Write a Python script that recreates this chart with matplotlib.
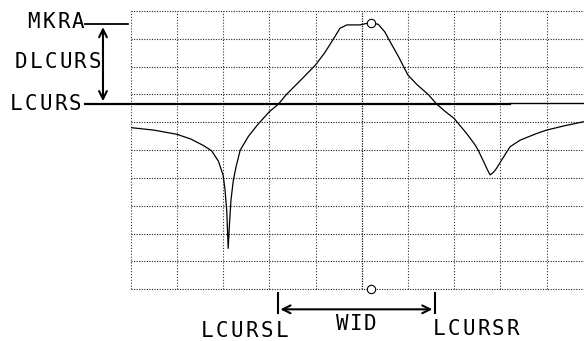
import matplotlib
matplotlib.use('Agg')
import matplotlib.pyplot as plt

# trace, in grid divisions (x 0..10, y 0..10)
trace_x = [0.0, 0.5, 1.0, 1.3, 1.57, 1.75, 1.9, 2.0, 2.04, 2.08, 2.11, 2.14, 2.17,
           2.22, 2.28, 2.37, 2.55, 2.75, 3.0, 3.2, 3.37, 3.7, 4.0, 4.2, 4.39,
           4.53, 4.68, 4.96, 5.1, 5.21, 5.36, 5.5, 5.58, 5.8, 6.0, 6.2, 6.44,
           6.62, 6.8, 7.0, 7.27, 7.45, 7.52, 7.65, 7.72, 7.78, 7.85, 7.92, 8.05,
           8.21, 8.43, 8.79, 9.0, 9.4, 9.8]
trace_y = [5.81, 5.72, 5.57, 5.4, 5.17, 4.98, 4.6, 4.1, 3.6, 2.8, 1.47, 2.4, 3.2,
           3.9, 4.4, 5.0, 5.5, 5.92, 6.38, 6.66, 7.0, 7.55, 8.06, 8.5, 9.0,
           9.38, 9.5, 9.5, 9.55, 9.58, 9.52, 9.25, 9.0, 8.35, 7.7, 7.35, 7.0,
           6.66, 6.4, 6.14, 5.6, 5.2, 5.0, 4.55, 4.3, 4.11, 4.2, 4.35, 4.7,
           5.12, 5.36, 5.6, 5.72, 5.88, 6.02]

marker_x = 5.21
marker_y = 9.58
lcurs_y = 6.66
lcursl_x = 3.18
lcursr_x = 6.59

grid_x = list(range(11))
grid_y = list(range(11))

W, H = 584, 341
fig = plt.figure(figsize=(W / 100, H / 100), dpi=100)
fig.patch.set_facecolor('white')

# grid box: left 130.7px, top 11px, 46.2 px per x division, 27.83 px per y division
x0, top, dx, dy = 130.7, 11.0, 46.2, 27.83
ax = fig.add_axes([x0 / W, (H - top - 10 * dy) / H, 10 * dx / W, 10 * dy / H])
ax.set_xlim(0, 10)
ax.set_ylim(0, 10)
ax.axis('off')

for gx in grid_x:
    if gx == 5:
        ax.axvline(gx, color='#111111', ls=(0, (1, 1)), lw=0.9, clip_on=False)
    else:
        ax.axvline(gx, color='#333333', ls=(0, (1, 1.6)), lw=0.8, clip_on=False)
for gy in grid_y:
    ax.axhline(gy, color='#222222', ls=(0, (1, 1.3)), lw=0.8, clip_on=False)

ax.plot(trace_x, trace_y, color='black', lw=0.9)
ax.plot([marker_x, marker_x], [marker_y, 0], 'o', ms=6, mfc='white', mec='black',
        mew=0.8, clip_on=False)

font = dict(family='DejaVu Sans Mono', fontsize=15, color='black')
pitch = 14.9 / dx     # character pitch of the plotter font, in x divisions
cell = 11.0 / dx


def plot_label(x, y, s, step=pitch):
    # plotter lettering: one glyph per fixed-width cell
    for i, ch in enumerate(s):
        ax.text(x + cell / 2 + i * step, y, ch, ha='center', va='baseline',
                clip_on=False, **font)


# left side: MKRA, DLCURS, LCURS
mkra_y = 9.52
ax.plot([-0.99, -0.06], [mkra_y, mkra_y], color='black', lw=1.3, clip_on=False)
ax.plot([-0.99, 8.2], [lcurs_y, lcurs_y], color='black', lw=1.6, clip_on=False)
ax.plot([8.2, 10], [lcurs_y + 0.05, lcurs_y + 0.05], color='black', lw=1.0, clip_on=False)
ax.annotate('', xy=(-0.60, mkra_y), xytext=(-0.60, lcurs_y),
            arrowprops=dict(arrowstyle='<->', lw=1.5, color='black', mutation_scale=14),
            annotation_clip=False)
plot_label(-2.22, 9.39, 'MKRA')
plot_label(-2.50, 7.94, 'DLCURS')
plot_label(-2.61, 6.44, 'LCURS')

# bottom: WID between the two cursor crossings
for bx in [lcursl_x, lcursr_x]:
    ax.plot([bx, bx], [-0.12, -0.86], color='black', lw=1.5, clip_on=False)
ax.annotate('', xy=(lcursl_x, -0.72), xytext=(lcursr_x, -0.72),
            arrowprops=dict(arrowstyle='<->', lw=1.5, color='black', mutation_scale=14),
            annotation_clip=False)
plot_label(1.54, -1.70, 'LCURSL')
plot_label(4.46, -1.46, 'WID', step=14.0 / dx)
plot_label(6.55, -1.64, 'LCURSR')

fig.savefig('out.png', dpi=100)
